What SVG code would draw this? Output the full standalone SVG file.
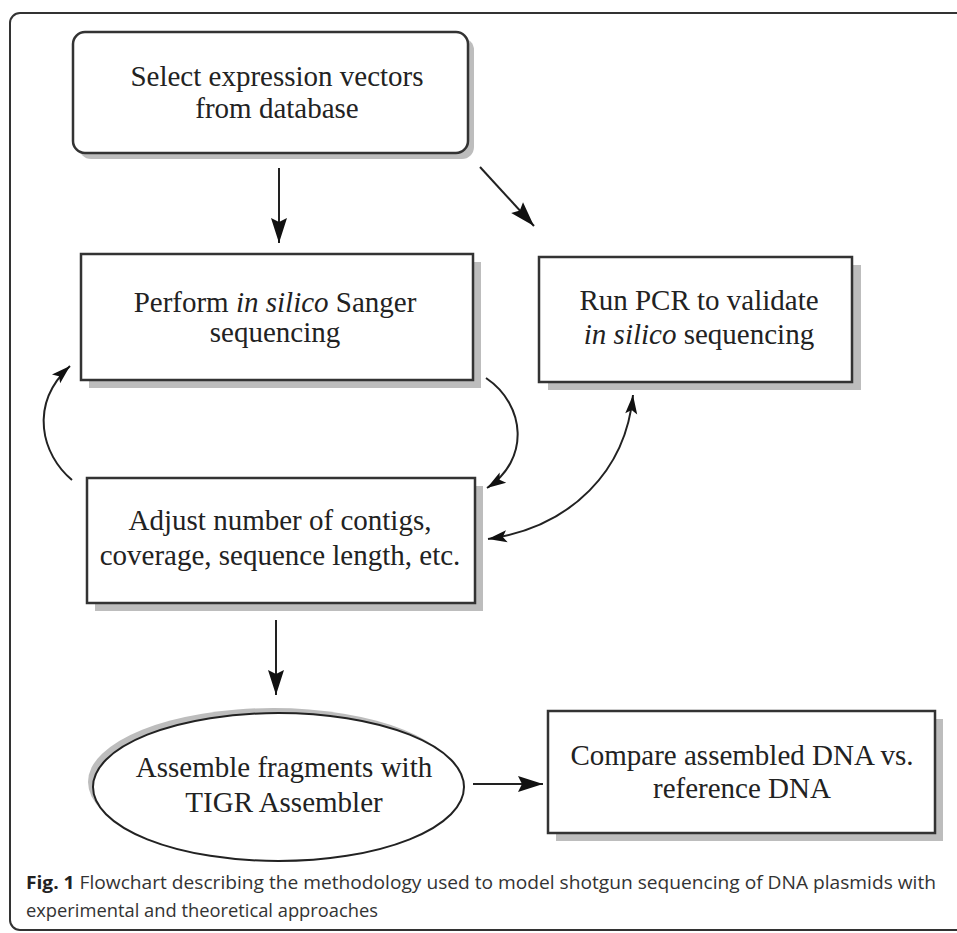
<svg xmlns="http://www.w3.org/2000/svg" width="957" height="933" viewBox="0 0 957 933">
<style>
.box{fill:#fff;stroke:#333;stroke-width:2.5}
.shadow{fill:#bdbdbd;stroke:none}
.t{font-family:"Liberation Serif","Times New Roman",serif;font-size:29px;fill:#222;text-anchor:middle}
.i{font-style:italic}
.conn{fill:none;stroke:#222;stroke-width:2}
.cap{font-family:"Open Sans","Liberation Sans",sans-serif;font-size:18px;fill:#333}
</style>
<defs>
<marker id="ah" markerUnits="userSpaceOnUse" viewBox="-26 -9 28 18" refX="0" refY="0" markerWidth="28" markerHeight="18" orient="auto">
<path d="M0,0 L-25,-8 L-21,0 L-25,8 Z" fill="#111"/>
</marker>
<marker id="ahs" markerUnits="userSpaceOnUse" viewBox="-20 -7 22 14" refX="0" refY="0" markerWidth="22" markerHeight="14" orient="auto">
<path d="M0,0 L-19,-6 L-15,0 L-19,6 Z" fill="#111"/>
</marker>
<marker id="ahs-start" markerUnits="userSpaceOnUse" viewBox="-20 -7 22 14" refX="0" refY="0" markerWidth="22" markerHeight="14" orient="auto-start-reverse">
<path d="M0,0 L-19,-6 L-15,0 L-19,6 Z" fill="#111"/>
</marker>
</defs>

<rect x="10" y="13" width="1000" height="917" rx="10" ry="10" fill="#fff" stroke="#333" stroke-width="2"/>

<g id="connectors">
<line class="conn" x1="279" y1="168" x2="279" y2="243" marker-end="url(#ah)"/>
<line class="conn" x1="480" y1="167" x2="534" y2="226" marker-end="url(#ah)"/>
<path class="conn" d="M72,480 C42,455 28,405 70,366" marker-end="url(#ahs)"/>
<path class="conn" d="M486,378 C526,405 530,460 487,488" marker-end="url(#ahs)"/>
<path class="conn" d="M633,395 C626,470 572,527 488,539" marker-start="url(#ahs-start)" marker-end="url(#ahs)"/>
<line class="conn" x1="276" y1="620" x2="276" y2="695" marker-end="url(#ah)"/>
<line class="conn" x1="473" y1="784" x2="543" y2="784" marker-end="url(#ah)"/>
</g>

<g id="node-select">
<rect class="shadow" x="79" y="38" width="395" height="121" rx="12"/>
<rect class="box" x="73" y="32" width="395" height="121" rx="12"/>
<text class="t" x="277" y="86">Select expression vectors</text>
<text class="t" x="277" y="118">from database</text>
</g>

<g id="node-perform">
<rect class="shadow" x="89" y="262" width="392" height="126"/>
<rect class="box" x="81" y="254" width="392" height="126"/>
<text class="t" x="275" y="312">Perform <tspan class="i">in silico</tspan> Sanger</text>
<text class="t" x="275" y="342">sequencing</text>
</g>

<g id="node-pcr">
<rect class="shadow" x="548" y="265" width="313" height="125"/>
<rect class="box" x="539" y="257" width="313" height="125"/>
<text class="t" x="699" y="310">Run PCR to validate</text>
<text class="t" x="699" y="344"><tspan class="i">in silico</tspan> sequencing</text>
</g>

<g id="node-adjust">
<rect class="shadow" x="95" y="486" width="388" height="125"/>
<rect class="box" x="87" y="478" width="388" height="125"/>
<text class="t" x="280" y="530">Adjust number of contigs,</text>
<text class="t" x="280" y="565">coverage, sequence length, etc.</text>
</g>

<g id="node-assemble">
<ellipse cx="273" cy="782" rx="185" ry="74" fill="#bdbdbd"/>
<ellipse cx="278.5" cy="787" rx="185.5" ry="74" fill="#fff" stroke="#222" stroke-width="2"/>
<text class="t" x="284" y="777">Assemble fragments with</text>
<text class="t" x="284" y="812">TIGR Assembler</text>
</g>

<g id="node-compare">
<rect class="shadow" x="556" y="719" width="387" height="122"/>
<rect class="box" x="548" y="711" width="387" height="122"/>
<text class="t" x="742" y="765">Compare assembled DNA vs.</text>
<text class="t" x="742" y="798">reference DNA</text>
</g>

<g id="caption">
<text class="cap" x="26" y="889" textLength="910" lengthAdjust="spacingAndGlyphs"><tspan font-weight="bold" fill="#222">Fig. 1</tspan> Flowchart describing the methodology used to model shotgun sequencing of DNA plasmids with</text>
<text class="cap" x="26" y="917" textLength="352" lengthAdjust="spacingAndGlyphs">experimental and theoretical approaches</text>
</g>
</svg>
